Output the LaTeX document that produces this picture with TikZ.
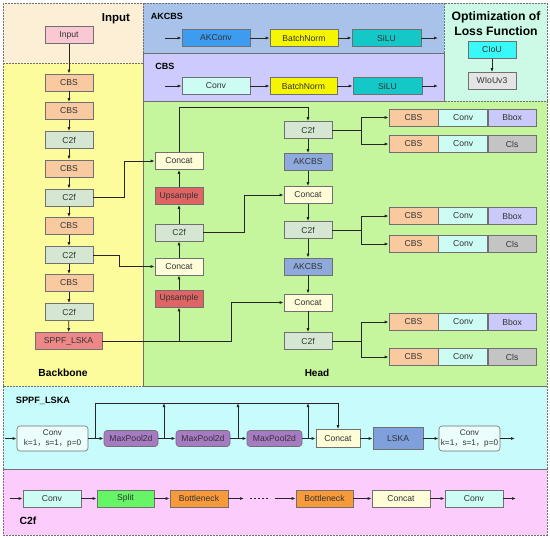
\documentclass[tikz,border=0pt]{standalone}
\usepackage{fontspec}
\setmainfont{Liberation Sans}
\newfontfamily\cjk{Noto Sans CJK SC}
\usetikzlibrary{arrows.meta}
\definecolor{cInput}{HTML}{FDEFD6}
\definecolor{cBack}{HTML}{FCFC9C}
\definecolor{cAk}{HTML}{A8C2EA}
\definecolor{cCbsR}{HTML}{CDCBFD}
\definecolor{cOpt}{HTML}{CCFAE6}
\definecolor{cHead}{HTML}{C5F59C}
\definecolor{cSppf}{HTML}{C8FCFC}
\definecolor{cC2fR}{HTML}{FCCCFC}
\definecolor{fCBS}{HTML}{F9C9A0}
\definecolor{fC2f}{HTML}{D5E6D3}
\definecolor{fIn}{HTML}{FAC8D2}
\definecolor{fSppf}{HTML}{EE8888}
\definecolor{fCat}{HTML}{FFFCD8}
\definecolor{fUp}{HTML}{E06464}
\definecolor{fAk}{HTML}{8EAADC}
\definecolor{fBbox}{HTML}{CACAFA}
\definecolor{fCls}{HTML}{C4C4C4}
\definecolor{fConv}{HTML}{CCFCF4}
\definecolor{fAkConv}{HTML}{3D9BF0}
\definecolor{fBN}{HTML}{F5F500}
\definecolor{fSilu}{HTML}{14C8C8}
\definecolor{fCiou}{HTML}{38F8F8}
\definecolor{fWiou}{HTML}{E4E4E4}
\definecolor{fMP}{HTML}{A77BC4}
\definecolor{fLska}{HTML}{7F9FDD}
\definecolor{fSplit}{HTML}{66F566}
\definecolor{fBott}{HTML}{F99A3A}
\definecolor{edge}{HTML}{707070}
\newcommand{\fc}{{\cjk ，}}
\tikzset{
  region/.style={draw=edge, dash pattern=on 2pt off 1pt, line width=0.7pt},
  box/.style={draw=edge, line width=0.6pt, minimum height=17pt, minimum width=48pt, inner sep=0pt, font=\fontsize{8.6}{10}\selectfont, text=black!80},
  rbox/.style={box, rounded corners=3pt},
  lbl/.style={font=\bfseries\fontsize{10}{12}\selectfont, text=black},
  arr/.style={-{Latex[length=4pt,width=3pt]}, line width=0.8pt, black!85},
  ln/.style={line width=0.8pt, black!85}
}
\begin{document}
\begin{tikzpicture}[x=1pt,y=-1pt]
\useasboundingbox (0,0) rectangle (550,538);
\fill[white] (0,0) rectangle (550,538);
% regions
\fill[cInput] (3,3) rectangle (143,63);
\fill[cBack] (3,63) rectangle (143,386);
\fill[cAk] (143,3) rectangle (444,53);
\fill[cCbsR] (143,53) rectangle (444,101);
\fill[cOpt] (444,3) rectangle (547,101);
\fill[cHead] (143,101) rectangle (547,386);
\fill[cSppf] (3,386) rectangle (547,469);
\fill[cC2fR] (3,469) rectangle (547,535);
\draw[region] (3,3) rectangle (143,63);
\draw[region] (3,63) rectangle (143,386);
\draw[region] (143,3) rectangle (444,53);
\draw[region] (143,53) rectangle (444,101);
\draw[region] (444,3) rectangle (547,101);
\draw[region] (143,101) rectangle (547,386);
\draw[region] (3,386) rectangle (547,469);
\draw[region] (3,469) rectangle (547,535);
% labels
\node[lbl, font=\bfseries\fontsize{11.5}{13}\selectfont] (tin) at (116,19) {Input};
\node[lbl, font=\bfseries\fontsize{10.3}{12}\selectfont] (tbb) at (63,373) {Backbone};
\node[lbl, font=\bfseries\fontsize{9}{11}\selectfont] (tak) at (167,16) {AKCBS};
\node[lbl, font=\bfseries\fontsize{9}{11}\selectfont] (tcbs) at (165,66) {CBS};
\node[lbl, align=center, font=\bfseries\fontsize{12.2}{15}\selectfont] (topt) at (496,24) {Optimization of\\Loss Function};
\node[lbl] (thead) at (317,373) {Head};
\node[lbl, font=\bfseries\fontsize{9.2}{11}\selectfont] (tsppf) at (43,401) {SPPF\_LSKA};
\node[lbl, font=\bfseries\fontsize{10.4}{12}\selectfont] (tc2f) at (28,521) {C2f};
% top rows
\coordinate (ain) at (165,38);
\node[box, fill=fAkConv, minimum width=68pt] (akconv) at (216,38) {AKConv};
\node[box, fill=fBN, minimum width=68pt] (bn1) at (304,38) {BatchNorm};
\node[box, fill=fSilu, minimum width=69pt] (silu1) at (386.5,38) {SiLU};
\coordinate (aout) at (438,38);
\draw[arr] (ain) -- (akconv);
\draw[arr] (akconv) -- (bn1);
\draw[arr] (bn1) -- (silu1);
\draw[arr] (silu1) -- (aout);
\coordinate (cin) at (165,86);
\node[box, fill=fConv, minimum width=68pt] (conv0) at (216,86) {Conv};
\node[box, fill=fBN, minimum width=67pt] (bn2) at (303.5,86) {BatchNorm};
\node[box, fill=fSilu, minimum width=69pt] (silu2) at (387.5,86) {SiLU};
\coordinate (cout) at (438,86);
\draw[arr] (cin) -- (conv0);
\draw[arr] (conv0) -- (bn2);
\draw[arr] (bn2) -- (silu2);
\draw[arr] (silu2) -- (cout);
% optimization
\node[box, fill=fCiou] (ciou) at (492,50) {CIoU};
\node[box, fill=fWiou] (wiou) at (492,81) {WIoUv3};
\draw[arr] (ciou) -- (wiou);
% backbone
\node[box, fill=fIn] (in) at (69,35) {Input};
\node[box, fill=fCBS] (b1) at (69,82.5) {CBS};
\node[box, fill=fCBS] (b2) at (69,111) {CBS};
\node[box, fill=fC2f] (b3) at (69,140) {C2f};
\node[box, fill=fCBS] (b4) at (69,168.5) {CBS};
\node[box, fill=fC2f] (b5) at (69,197.5) {C2f};
\node[box, fill=fCBS] (b6) at (69,226) {CBS};
\node[box, fill=fC2f] (b7) at (69,255) {C2f};
\node[box, fill=fCBS] (b8) at (69,283) {CBS};
\node[box, fill=fC2f] (b9) at (69,312) {C2f};
\node[box, fill=fSppf, minimum width=67pt] (sppf) at (68.5,341) {SPPF\_LSKA};
\draw[arr] (in) -- (b1);
\draw[arr] (b1) -- (b2);
\draw[arr] (b2) -- (b3);
\draw[arr] (b3) -- (b4);
\draw[arr] (b4) -- (b5);
\draw[arr] (b5) -- (b6);
\draw[arr] (b6) -- (b7);
\draw[arr] (b7) -- (b8);
\draw[arr] (b8) -- (b9);
\draw[arr] (b9) -- (sppf);
% head column 1
\node[box, fill=fCat] (hc1) at (179,161) {Concat};
\node[box, fill=fUp] (hu1) at (179,196) {Upsample};
\node[box, fill=fC2f] (hf1) at (179,232.5) {C2f};
\node[box, fill=fCat] (hc2) at (179,266.5) {Concat};
\node[box, fill=fUp] (hu2) at (179,298.5) {Upsample};
\draw[arr] (hu2) -- (hc2);
\draw[arr] (hc2) -- (hf1);
\draw[arr] (hf1) -- (hu1);
\draw[arr] (hu1) -- (hc1);
\draw[arr] (b5.east) -- ++(31,0) |- (hc1.west);
\draw[arr] (b7.east) -- ++(26,0) |- (hc2.west);
\draw[arr] (sppf.east) -| (hu2.south);
% head column 2
\node[box, fill=fC2f] (g1) at (308,130) {C2f};
\node[box, fill=fAk] (g2) at (308,162) {AKCBS};
\node[box, fill=fCat] (g3) at (308,195) {Concat};
\node[box, fill=fC2f] (g4) at (308,230) {C2f};
\node[box, fill=fAk] (g5) at (308,266.5) {AKCBS};
\node[box, fill=fCat] (g6) at (308,302.5) {Concat};
\node[box, fill=fC2f] (g7) at (308,341) {C2f};
\draw[arr] (g1) -- (g2);
\draw[arr] (g2) -- (g3);
\draw[arr] (g3) -- (g4);
\draw[arr] (g4) -- (g5);
\draw[arr] (g5) -- (g6);
\draw[arr] (g6) -- (g7);
\draw[arr] (hc1.north) -- ++(0,-44.5) -| (g1.north);
\draw[arr] (hf1.east) -- ++(41,0) |- (g3.west);
\draw[arr] (sppf.east) -- ++(129,0) |- (g6.west);
% outputs
\foreach \r/\y/\t/\f in {p1/117.5/Bbox/fBbox, p2/144/Cls/fCls, p3/216/Bbox/fBbox, p4/244/Cls/fCls, p5/322/Bbox/fBbox, p6/357/Cls/fCls}{
  \node[box, fill=fCBS, minimum width=49pt] (\r a) at (413.5,\y) {CBS};
  \node[box, fill=fConv, minimum width=49pt, anchor=west] (\r b) at (\r a.east) {Conv};
  \node[box, fill=\f, minimum width=48pt, anchor=west] (\r c) at (\r b.east) {\t};
}
\draw[arr] (g1.east) -- ++(29,0) |- (p1a.west);
\draw[arr] (g1.east) -- ++(29,0) |- (p2a.west);
\draw[arr] (g4.east) -- ++(29,0) |- (p3a.west);
\draw[arr] (g4.east) -- ++(29,0) |- (p4a.west);
\draw[arr] (g7.east) -- ++(29,0) |- (p5a.west);
\draw[arr] (g7.east) -- ++(29,0) |- (p6a.west);
% SPPF_LSKA detail
\coordinate (sin) at (5,438.5);
\node[rbox, fill=fConv!40!white, minimum width=71pt, minimum height=25pt, align=center, font=\fontsize{8.2}{10}\selectfont] (s1) at (52.5,438.5) {Conv\\k=1\fc s=1\fc p=0};
\node[rbox, fill=fMP, minimum width=54pt, minimum height=16pt] (m1) at (131,438.5) {MaxPool2d};
\node[rbox, fill=fMP, minimum width=54pt, minimum height=16pt] (m2) at (203,438.5) {MaxPool2d};
\node[rbox, fill=fMP, minimum width=55pt, minimum height=16pt] (m3) at (274.5,438.5) {MaxPool2d};
\node[box, fill=fCat, minimum width=44pt, minimum height=18pt] (scat) at (338,438.5) {Concat};
\node[box, fill=fLska, minimum width=50pt, minimum height=22pt] (lska) at (398,438.5) {LSKA};
\node[rbox, fill=fConv!40!white, minimum width=61pt, minimum height=25pt, align=center, font=\fontsize{8.2}{10}\selectfont] (s2) at (469.5,438.5) {Conv\\k=1\fc s=1\fc p=0};
\coordinate (sout) at (515,438.5);
\draw[arr] (sin) -- (s1);
\draw[arr] (s1) -- (m1);
\draw[arr] (m1) -- (m2);
\draw[arr] (m2) -- (m3);
\draw[arr] (m3) -- (scat);
\draw[arr] (scat) -- (lska);
\draw[arr] (lska) -- (s2);
\draw[arr] (s2) -- (sout);
\coordinate (k0) at (95,438.5);
\coordinate (k1) at (164,438.5);
\coordinate (k2) at (238,438.5);
\coordinate (k3) at (308,438.5);
\coordinate (t1) at (164,403);
\coordinate (t2) at (238,403);
\coordinate (t3) at (308,403);
\draw[ln] (k0) -- (95,403) -- (338,403);
\draw[arr] (338,403) -- (scat.north);
\draw[arr] (k1) -- (t1);
\draw[arr] (k2) -- (t2);
\draw[arr] (k3) -- (t3);
% C2f detail
\coordinate (qin) at (10,498.5);
\node[box, fill=fConv, minimum width=58pt] (q1) at (52,498.5) {Conv};
\node[box, fill=fSplit, minimum width=57pt] (q2) at (125.5,498.5) {Split};
\node[box, fill=fBott, minimum width=58pt] (q3) at (199,498.5) {Bottleneck};
\coordinate (qd1) at (244,498.5);
\coordinate (qd2) at (275,498.5);
\node[box, fill=fBott, minimum width=57pt] (q4) at (324.5,498.5) {Bottleneck};
\node[box, fill=fCat, minimum width=58pt] (q5) at (401,498.5) {Concat};
\node[box, fill=fConv, minimum width=58pt] (q6) at (474,498.5) {Conv};
\coordinate (qout) at (516,498.5);
\draw[arr] (qin) -- (q1);
\draw[arr] (q1) -- (q2);
\draw[arr] (q2) -- (q3);
\draw[arr] (q3) -- (qd1);
\draw[ln, dash pattern=on 2pt off 2pt, line width=0.6pt] (250,498.5) -- (270,498.5);
\draw[arr] (qd2) -- (q4);
\draw[arr] (q4) -- (q5);
\draw[arr] (q5) -- (q6);
\draw[arr] (q6) -- (qout);
\end{tikzpicture}
\end{document}
